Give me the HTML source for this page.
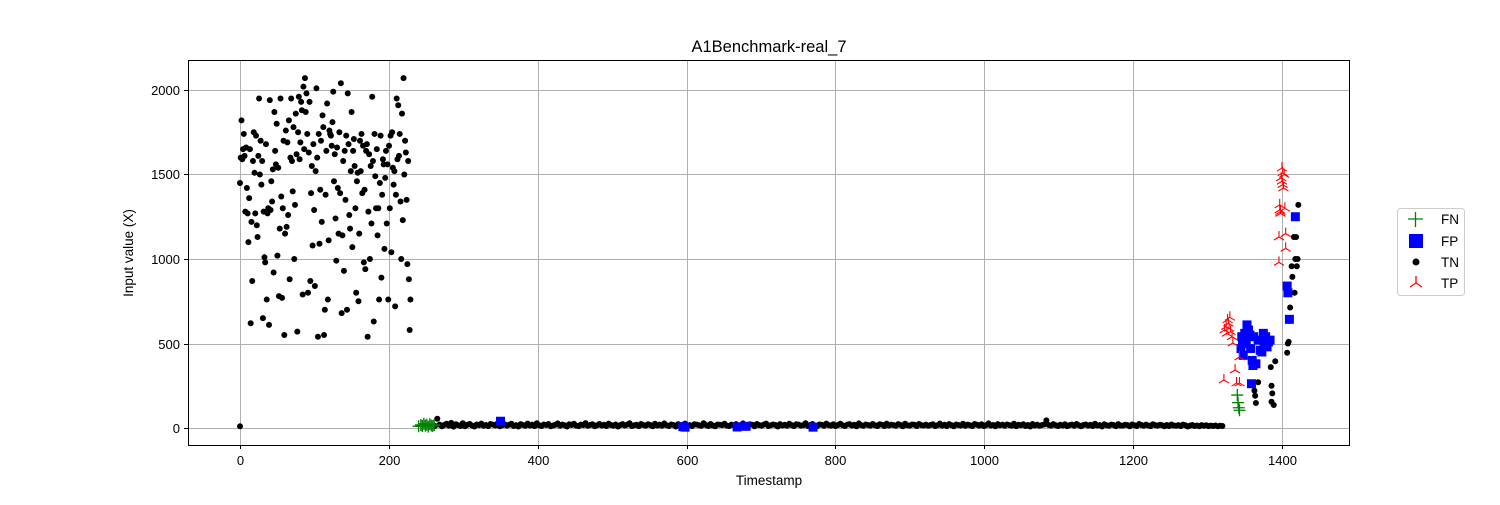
<!DOCTYPE html>
<html><head><meta charset="utf-8"><style>
html,body{margin:0;padding:0;background:#fff;}
svg text{font-family:"Liberation Sans","DejaVu Sans",sans-serif;}
</style></head><body>
<svg id="chart" width="1500" height="500" xmlns="http://www.w3.org/2000/svg">
<rect x="0" y="0" width="1500" height="500" fill="#fff"/>
<text x="769" y="52" font-size="16.5" text-anchor="middle">A1Benchmark-real_7</text>
<g id="grid"></g>
<g id="marks"></g>
<rect x="188.5" y="60.5" width="1161" height="385" fill="none" stroke="#000" stroke-width="1"/>
<g id="ticks"></g>
<text x="769" y="485" font-size="13.5" text-anchor="middle">Timestamp</text>
<text x="133" y="253" font-size="13.5" text-anchor="middle" transform="rotate(-90 133 253)">Input value (X)</text>
<g>
<rect x="1397.5" y="208.5" width="67" height="87" rx="3" fill="#fff" stroke="#ccc"/>
<g><path d="M1408 219h15M1415.5 212v15" stroke="green" stroke-width="1.3"/><text x="1441" y="224" font-size="13.5">FN</text></g>
<g><rect x="1409" y="234" width="14" height="14" fill="blue"/><text x="1441" y="246" font-size="13.5">FP</text></g>
<g><circle cx="1416" cy="262" r="3.5" fill="#000"/><text x="1441" y="267" font-size="13.5">TN</text></g>
<g><path d="M1416 283v-7M1416 283l-6 4M1416 283l6 4" stroke="red" stroke-width="1.3" fill="none"/><text x="1441" y="288" font-size="13.5">TP</text></g>
</g>
</svg>
<script>
const xTicks=[0,200,400,600,800,1000,1200,1400];
const yTicks=[0,500,1000,1500,2000];
const tnHighValues=[1600,1820,1590,1650,1740,1610,1280,1660,1420,1270,1100,1360,1650,620,1220,870,1580,1750,1510,1270,1730,1200,1130,1610,1950,1500,1700,1440,1580,650,1280,1010,980,1680,760,1270,1300,610,1940,1290,1460,1340,1530,920,1870,1640,1560,1800,1020,1540,780,1180,1950,1370,770,1300,1700,550,1150,1760,1190,1690,1260,1820,880,1600,1950,1580,1400,1780,1000,1320,1860,1620,570,1750,1960,1590,1690,1930,1880,790,2020,1650,2070,1870,1980,1740,800,1630,1930,870,1390,1550,1080,1680,1290,840,1520,2010,1600,540,1740,1090,1410,1700,1220,1850,1780,550,700,1380,1640,1920,760,1110,1760,1740,1730,1670,1810,1990,1460,1620,1240,990,1660,1420,1150,1750,1390,2040,680,1140,1580,930,1640,1350,1730,700,1980,1680,1260,1180,1520,1870,1070,1640,1710,1550,1300,800,1460,1510,750,1150,1700,1520,1740,1390,1670,980,1410,940,1640,1680,540,1280,1620,1000,1550,1210,1960,1580,630,1740,1490,1300,1650,1140,1300,760,1450,1730,890,1380,1590,1560,1060,1480,1640,1210,1560,760,1670,1300,1730,1040,1750,1540,1440,1520,720,1380,1950,1590,1910,1610,1740,1340,1000,1860,1230,2070,1500,1700,1630,1350,970,1580,880,580,760];
const tnHighStart=1;
const tnHighEnd=229;
const fnT=[240,243,245,247,249,251,253,255,257,259,261,1340,1341,1342,1343];
const fnV=[10,18,12,25,14,20,8,22,15,12,18,195,150,120,105];
const tnFlatStart=262;
const tnFlatEnd=1320;
const tnFlatValues=[12,55,20,10,18,25,14,30,8,22,16,12,28,10,19,24,15,9,21,17,26,13,18,11,24,20,15,27,10,16,22,14,19,25,12,17,9,23,18,13,26,15,20,11,28,16,12,21,18,24,10,15,19,27,13,20,16,9,22,18,25,14,11,20,17,29,13,18,22,10,16,24,15,19,12,26,18,14,21,9,17,23,15,20,28,12,16,19,11,24,18,14,22,17,10,25,15,20,13,27,16,12,21,18,9,23,15,19,26,14,17,11,22,20,16,13,28,18,12,24,15,10,21,19,17,25,14,12,20,16,23,11,18,27,15,13,22,19,10,24,17,14,20,26,12,16,21,18,9,23,15,19,13,25,17,11,22,20,14,16,28,12,18,24,15,10,21,19,13,26,17,14,22,11,18,25,16,12,20,23,15,19,10,27,17,13,21,18,14,24,16,11,22,19,12,26,15,20,17,13,23,18,10,25,16,14,21,19,12,24,17,15,20,13,18,22,11,16,26,14,19,12,23,17,10,21,18,15,25,13,20,16,11,24,19,14,22,12,17,27,15,18,10,23,16,20,13,21,17,14,25,11,19,16,22,12,18,9,24,15,20,13,17,21,45,18,14,23,16,12,19,15,22,11,17,20,13,24,16,10,18,21,14,19,12,25,15,17,9,22,16,13,20,18,11,23,15,14,19,17,10,21,16,12,24,18,13,20,15,11,22,17,14,19,16,10,18,12,21,15,13,17,11,20,16,9,14,18,12,15,10,17,13,16,11,14,12,15,10,13,12];
const tnRightT=[0,1368,1363,1364,1365,1385,1386,1387,1386,1389,1391,1407,1408,1409,1410,1411,1412,1413,1414,1416,1417,1418,1419,1420,1421,1422];
const tnRightV=[10,271,221,191,148,360,250,205,155,136,395,445,500,510,634,713,800,957,894,1130,800,1000,1130,957,1000,1320];
const fpT=[350,595,598,668,680,770,1345,1346,1347,1348,1350,1352,1353,1355,1357,1358,1360,1361,1362,1365,1368,1371,1373,1375,1376,1378,1380,1382,1384,1359,1407,1408,1410,1418];
const fpV=[40,8,5,6,10,5,470,540,500,430,560,520,610,580,550,470,400,370,540,380,520,460,450,560,500,540,480,510,520,262,840,800,643,1250];
const tpT=[1322,1323,1325,1326,1327,1328,1329,1330,1331,1333,1334,1337,1339,1343,1343,1396,1397,1398,1398,1399,1400,1400,1401,1402,1403,1404,1405,1396,1405,1401,1397];
const tpV=[284,580,600,560,640,620,590,655,570,540,503,343,266,420,266,1130,1320,1280,1270,1480,1538,1460,1510,1420,1500,1300,1150,980,1063,1440,1290];
const SVGNS="http://www.w3.org/2000/svg";
const xS=t=>240+t*0.74425;
const yS=v=>428-v*0.169;
const grid=document.getElementById('grid'),ticks=document.getElementById('ticks'),marks=document.getElementById('marks');
function mk(tag,attrs,parent){const e=document.createElementNS(SVGNS,tag);for(const k in attrs)e.setAttribute(k,attrs[k]);parent.appendChild(e);return e;}
xTicks.forEach(t=>{const x=Math.round(xS(t))+0.5;
const g=mk('line',{x1:x,x2:x,y1:60,y2:445,stroke:'#b0b0b0','stroke-width':1},grid);


const tk=mk('line',{x1:x,x2:x,y1:445,y2:449,stroke:'#000'},ticks);


const tx=mk('text',{x:x,y:465,'font-size':13,'text-anchor':'middle'},ticks);tx.textContent=t;

});
yTicks.forEach(v=>{const y=Math.round(yS(v))+0.5;
const g=mk('line',{x1:188,x2:1350,y1:y,y2:y,stroke:'#b0b0b0','stroke-width':1},grid);


const tk=mk('line',{x1:184,x2:188,y1:y,y2:y,stroke:'#000'},ticks);


const tx=mk('text',{x:180,y:y+4.5,'font-size':13,'text-anchor':'end'},ticks);tx.textContent=v;

});
function fn(t,v){const x=xS(t),y=yS(v);const p=mk('path',{d:`M${x-6} ${y}h12M${x} ${y-6}v12`,stroke:'green','stroke-width':1.3},marks);

}
function fp(t,v){const x=xS(t),y=yS(v);const r=mk('rect',{x:x-4.5,y:y-4.5,width:9,height:9,fill:'blue'},marks);

}
function tn(t,v){const c=mk('circle',{cx:xS(t),cy:yS(v),r:3,fill:'#000'},marks);

}
function tp(t,v){const x=xS(t),y=yS(v);const p=mk('path',{d:`M${x} ${y}v-6M${x} ${y}l-5 3M${x} ${y}l5 3`,stroke:'red','stroke-width':1.1,fill:'none'},marks);

}
tn(0,1450);
const hs=(tnHighEnd-tnHighStart)/(tnHighValues.length-1);
tnHighValues.forEach((v,i)=>tn(tnHighStart+i*hs,v));
const fs=(tnFlatEnd-tnFlatStart)/(tnFlatValues.length-1);
tnFlatValues.forEach((v,i)=>tn(tnFlatStart+i*fs,v));
tnRightT.forEach((t,i)=>tn(t,tnRightV[i]));
fnT.forEach((t,i)=>fn(t,fnV[i]));
fpT.forEach((t,i)=>fp(t,fpV[i]));
tpT.forEach((t,i)=>tp(t,tpV[i]));
</script>
</body></html>
